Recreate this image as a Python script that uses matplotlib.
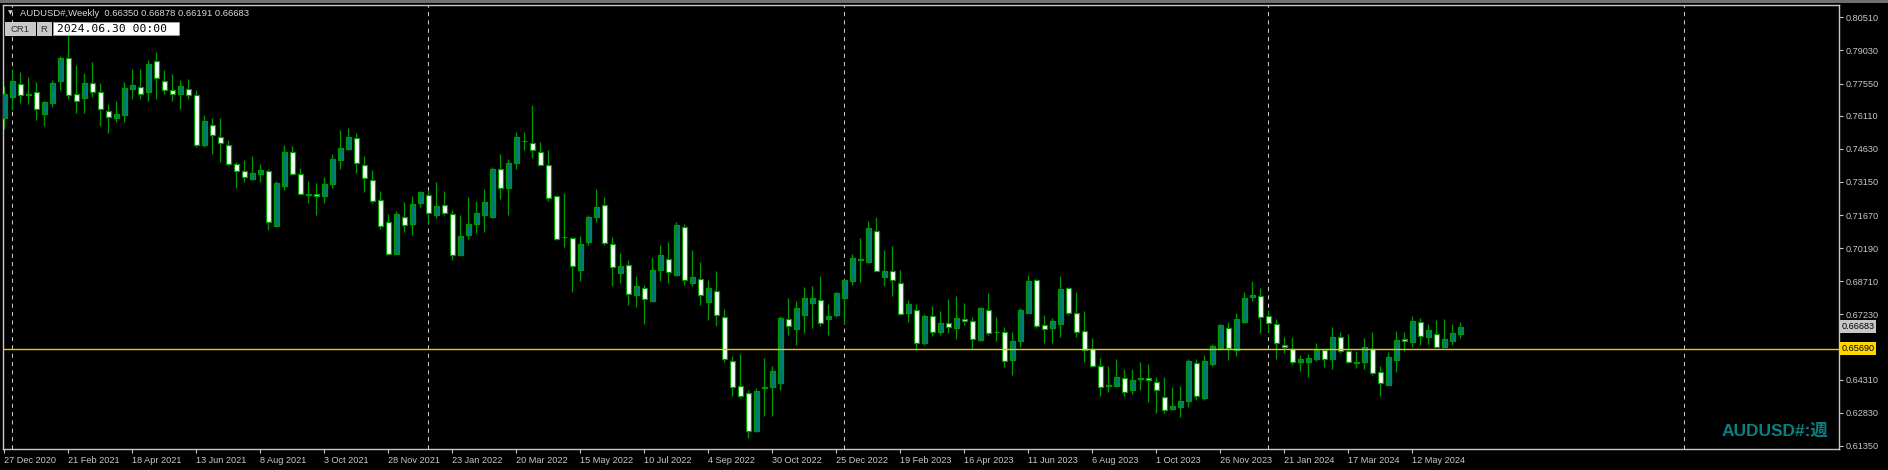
import matplotlib
matplotlib.use("Agg")
import matplotlib.pyplot as plt
import matplotlib.transforms as mtransforms
from matplotlib.patches import Rectangle
import numpy as np

# ---------------- data (weekly AUDUSD#, first bar = 27 Dec 2020) ----------------
opens = [0.7600, 0.7697, 0.7752, 0.7706, 0.7716, 0.7618, 0.7667, 0.7765, 0.7868, 0.7710,
         0.7689, 0.7757, 0.7716, 0.7631, 0.7600, 0.7613, 0.7730, 0.7739, 0.7716, 0.7855,
         0.7765, 0.7725, 0.7707, 0.7730, 0.7703, 0.7478, 0.7569, 0.7517, 0.7481, 0.7396,
         0.7363, 0.7329, 0.7350, 0.7363, 0.7119, 0.7299, 0.7448, 0.7351, 0.7260, 0.7259,
         0.7254, 0.7304, 0.7411, 0.7463, 0.7511, 0.7390, 0.7323, 0.7234, 0.7135, 0.6995,
         0.7157, 0.7125, 0.7220, 0.7256, 0.7166, 0.7211, 0.7171, 0.6988, 0.7076, 0.7125,
         0.7165, 0.7157, 0.7372, 0.7286, 0.7399, 0.7500, 0.7488, 0.7448, 0.7390, 0.7251,
         0.7070, 0.7064, 0.6921, 0.7046, 0.7157, 0.7211, 0.7037, 0.6910, 0.6943, 0.6809,
         0.6839, 0.6782, 0.6922, 0.6970, 0.6901, 0.7113, 0.6861, 0.6879, 0.6778, 0.6827,
         0.6711, 0.6514, 0.6402, 0.6371, 0.6202, 0.6395, 0.6396, 0.6414, 0.6702, 0.6657,
         0.6718, 0.6772, 0.6787, 0.6700, 0.6718, 0.6794, 0.6874, 0.6967, 0.6956, 0.7095,
         0.6892, 0.6916, 0.6863, 0.6728, 0.6742, 0.6597, 0.6715, 0.6646, 0.6684, 0.6660,
         0.6702, 0.6693, 0.6609, 0.6742, 0.6645, 0.6645, 0.6517, 0.6602, 0.6727, 0.6877,
         0.6675, 0.6660, 0.6682, 0.6842, 0.6728, 0.6648, 0.6566, 0.6491, 0.6407, 0.6401,
         0.6438, 0.6383, 0.6439, 0.6438, 0.6420, 0.6353, 0.6302, 0.6311, 0.6334, 0.6506,
         0.6347, 0.6499, 0.6572, 0.6661, 0.6563, 0.6690, 0.6800, 0.6804, 0.6714, 0.6679,
         0.6585, 0.6570, 0.6509, 0.6509, 0.6523, 0.6563, 0.6523, 0.6621, 0.6560, 0.6506,
         0.6509, 0.6567, 0.6465, 0.6407, 0.6517, 0.6615, 0.6599, 0.6688, 0.6621, 0.6635,
         0.6576, 0.6603, 0.66350]
highs = [0.7745, 0.7821, 0.7807, 0.7783, 0.7763, 0.7679, 0.7771, 0.7879, 0.8002, 0.7838,
         0.7804, 0.7852, 0.7758, 0.7664, 0.7678, 0.7763, 0.7818, 0.7821, 0.7861, 0.7894,
         0.7816, 0.7798, 0.7771, 0.7776, 0.7727, 0.7613, 0.7602, 0.7603, 0.7503, 0.7403,
         0.7414, 0.7429, 0.7393, 0.7374, 0.7317, 0.7481, 0.7477, 0.7378, 0.7317, 0.7311,
         0.7338, 0.7441, 0.7549, 0.7558, 0.7534, 0.7432, 0.7369, 0.7275, 0.7172, 0.7186,
         0.7226, 0.7253, 0.7275, 0.7280, 0.7315, 0.7275, 0.7189, 0.7168, 0.7248, 0.7231,
         0.7284, 0.7384, 0.7441, 0.7418, 0.7539, 0.7539, 0.7660, 0.7494, 0.7459, 0.7251,
         0.7266, 0.7070, 0.7074, 0.7166, 0.7284, 0.7248, 0.7070, 0.6998, 0.6967, 0.6895,
         0.6854, 0.6980, 0.7032, 0.7047, 0.7137, 0.7126, 0.7012, 0.6958, 0.6877, 0.6918,
         0.6748, 0.6538, 0.6547, 0.6383, 0.6395, 0.6526, 0.6493, 0.6716, 0.6797, 0.6781,
         0.6846, 0.6851, 0.6895, 0.6770, 0.6822, 0.6883, 0.6994, 0.7065, 0.7141, 0.7157,
         0.7012, 0.7029, 0.6922, 0.6785, 0.6770, 0.6724, 0.6761, 0.6739, 0.6792, 0.6806,
         0.6775, 0.6711, 0.6758, 0.6819, 0.6712, 0.6666, 0.6642, 0.6751, 0.6900, 0.6882,
         0.6721, 0.6708, 0.6895, 0.6846, 0.6824, 0.6739, 0.6618, 0.6526, 0.6490, 0.6524,
         0.6480, 0.6477, 0.6511, 0.6502, 0.6444, 0.6444, 0.6396, 0.6401, 0.6523, 0.6524,
         0.6542, 0.6591, 0.6678, 0.6691, 0.6728, 0.6824, 0.6873, 0.6842, 0.6743, 0.6703,
         0.6623, 0.6623, 0.6541, 0.6547, 0.6596, 0.6569, 0.6667, 0.6642, 0.6636, 0.6560,
         0.6618, 0.6645, 0.6491, 0.6555, 0.6649, 0.6645, 0.6716, 0.6708, 0.6681, 0.6699,
         0.6703, 0.6681, 0.66878]
lows = [0.7552, 0.7637, 0.7666, 0.7663, 0.7590, 0.7563, 0.7649, 0.7724, 0.7688, 0.7622,
        0.7622, 0.7697, 0.7563, 0.7533, 0.7585, 0.7581, 0.7688, 0.7688, 0.7676, 0.7688,
        0.7706, 0.7675, 0.7643, 0.7688, 0.7473, 0.7473, 0.7442, 0.7406, 0.7389, 0.7286,
        0.7313, 0.7324, 0.7313, 0.7101, 0.7116, 0.7280, 0.7344, 0.7259, 0.7219, 0.7169,
        0.7222, 0.7290, 0.7375, 0.7459, 0.7356, 0.7272, 0.7223, 0.7105, 0.6989, 0.6994,
        0.7089, 0.7079, 0.7204, 0.7131, 0.7153, 0.7169, 0.6964, 0.6985, 0.7061, 0.7085,
        0.7093, 0.7153, 0.7240, 0.7165, 0.7371, 0.7456, 0.7424, 0.7389, 0.7232, 0.7055,
        0.7026, 0.6825, 0.6874, 0.7034, 0.7137, 0.7034, 0.6848, 0.6865, 0.6763, 0.6758,
        0.6678, 0.6781, 0.6874, 0.6865, 0.6895, 0.6855, 0.6851, 0.6767, 0.6696, 0.6669,
        0.6508, 0.6359, 0.6351, 0.6168, 0.6199, 0.6269, 0.6269, 0.6383, 0.6632, 0.6584,
        0.6638, 0.6664, 0.6673, 0.6629, 0.6709, 0.6681, 0.6855, 0.6869, 0.6952, 0.6918,
        0.6851, 0.6806, 0.6718, 0.6690, 0.6563, 0.6588, 0.6624, 0.6630, 0.6638, 0.6615,
        0.6676, 0.6569, 0.6605, 0.6632, 0.6602, 0.6489, 0.6454, 0.6579, 0.6727, 0.6660,
        0.6593, 0.6596, 0.6620, 0.6718, 0.6620, 0.6511, 0.6486, 0.6360, 0.6378, 0.6401,
        0.6356, 0.6369, 0.6383, 0.6329, 0.6284, 0.6284, 0.6295, 0.6266, 0.6311, 0.6338,
        0.6342, 0.6493, 0.6565, 0.6521, 0.6539, 0.6685, 0.6781, 0.6638, 0.6646, 0.6523,
        0.6550, 0.6500, 0.6468, 0.6441, 0.6515, 0.6486, 0.6477, 0.6550, 0.6505, 0.6481,
        0.6478, 0.6454, 0.6360, 0.6407, 0.6465, 0.6560, 0.6575, 0.6588, 0.6590, 0.6576,
        0.6575, 0.6585, 0.66191]
closes = [0.7707, 0.7767, 0.7704, 0.7704, 0.7642, 0.7672, 0.7757, 0.7868, 0.7704, 0.7678,
          0.7758, 0.7716, 0.7642, 0.7606, 0.7618, 0.7734, 0.7748, 0.7707, 0.7841, 0.7779,
          0.7727, 0.7707, 0.7743, 0.7703, 0.7479, 0.7587, 0.7524, 0.7488, 0.7394, 0.7363,
          0.7336, 0.7356, 0.7369, 0.7135, 0.7311, 0.7450, 0.7350, 0.7260, 0.7256, 0.7251,
          0.7307, 0.7417, 0.7466, 0.7514, 0.7399, 0.7332, 0.7229, 0.7117, 0.6992, 0.7171,
          0.7122, 0.7217, 0.7269, 0.7175, 0.7207, 0.7175, 0.6988, 0.7073, 0.7126, 0.7175,
          0.7226, 0.7372, 0.7287, 0.7399, 0.7515, 0.7497, 0.7457, 0.7390, 0.7242, 0.7059,
          0.7067, 0.6939, 0.7037, 0.7157, 0.7202, 0.7041, 0.6936, 0.6939, 0.6813, 0.6851,
          0.6792, 0.6921, 0.6988, 0.6912, 0.7122, 0.6876, 0.6891, 0.6809, 0.6840, 0.6721,
          0.6523, 0.6396, 0.6356, 0.6201, 0.6381, 0.6398, 0.6471, 0.6706, 0.6669, 0.6751,
          0.6795, 0.6795, 0.6684, 0.6716, 0.6818, 0.6876, 0.6974, 0.6970, 0.7108, 0.6919,
          0.6918, 0.6877, 0.6724, 0.6769, 0.6594, 0.6716, 0.6643, 0.6685, 0.6666, 0.6706,
          0.6693, 0.6611, 0.6752, 0.6639, 0.6642, 0.6514, 0.6605, 0.6743, 0.6873, 0.6673,
          0.6657, 0.6693, 0.6837, 0.6727, 0.6646, 0.6562, 0.6494, 0.6396, 0.6404, 0.6442,
          0.6375, 0.6429, 0.6436, 0.6429, 0.6384, 0.6295, 0.6314, 0.6335, 0.6515, 0.6356,
          0.6515, 0.6581, 0.6675, 0.6572, 0.6702, 0.6795, 0.6809, 0.6711, 0.6685, 0.6596,
          0.6576, 0.6511, 0.6523, 0.6527, 0.6563, 0.6524, 0.6621, 0.6560, 0.6509, 0.6511,
          0.6576, 0.6460, 0.6416, 0.6532, 0.6608, 0.6603, 0.6693, 0.6627, 0.6652, 0.6578,
          0.6612, 0.6641, 0.66683]

date_labels = ["27 Dec 2020", "21 Feb 2021", "18 Apr 2021", "13 Jun 2021", "8 Aug 2021",
               "3 Oct 2021", "28 Nov 2021", "23 Jan 2022", "20 Mar 2022", "15 May 2022",
               "10 Jul 2022", "4 Sep 2022", "30 Oct 2022", "25 Dec 2022", "19 Feb 2023",
               "16 Apr 2023", "11 Jun 2023", "6 Aug 2023", "1 Oct 2023", "26 Nov 2023",
               "21 Jan 2024", "17 Mar 2024", "12 May 2024"]
label_step = 8                      # one date label every 8 weekly bars
year_start_bars = [1, 53, 105, 158, 210]   # first bar of 2021..2025 (period separators)
price_ticks = [0.80510, 0.79030, 0.77550, 0.76110, 0.74630, 0.73150, 0.71670,
               0.70190, 0.68710, 0.67230, 0.64310, 0.62830, 0.61350]
hline_price = 0.65690
last_price = closes[-1]
symbol = "AUDUSD#"
header_values = [opens[-1], highs[-1], lows[-1], closes[-1]]

# ---------------- figure ----------------
W, H = 1888, 470
fig = plt.figure(figsize=(W / 100, H / 100), dpi=100, facecolor="black")

def fx(px):
    return px / W

def fy(py):
    return 1 - py / H

left, right, top, bottom = 3, 1839, 5, 449
ax = fig.add_axes([fx(left), fy(bottom), fx(right - left), (bottom - top) / H])
ax.set_facecolor("black")

o = np.array(opens); h = np.array(highs); l = np.array(lows); c = np.array(closes)
x = np.arange(len(o))
bull = c >= o

wick_col = "#009a00"
ax.vlines(x, l, h, color=wick_col, linewidth=0.9, zorder=2)
body_h = np.maximum(np.abs(c - o), 0.00002)
ax.bar(x, body_h, bottom=np.minimum(o, c), width=0.6,
       color=np.where(bull, "#007878", "#ffffff"), edgecolor=wick_col,
       linewidth=0.9, zorder=3)

# period separators
for b in year_start_bars:
    ax.axvline(b, color="#c8c8c8", linewidth=0.75, linestyle=(0, (4, 4)), zorder=1)

# horizontal line
ax.axhline(hline_price, color="#f0c800", linewidth=1.0, zorder=4)

ax.set_xlim(-0.16, 229.34)
ax.set_ylim(0.61210, 0.81061)

# axes / ticks
for s in ax.spines.values():
    s.set_color("#c8c8c8")
    s.set_linewidth(1.0)

ax.yaxis.tick_right()
ax.set_yticks(price_ticks)
ax.set_yticklabels(["%.5f" % v for v in price_ticks])
ax.tick_params(axis="y", colors="#c8c8c8", labelcolor="#c8c8c8", length=3,
               width=0.8, pad=2, labelsize=6.6, direction="out")

xt = np.arange(len(date_labels)) * label_step
ax.set_xticks(xt)
ax.set_xticklabels(date_labels)
ax.tick_params(axis="x", colors="#c8c8c8", labelcolor="#c8c8c8", length=3,
               width=0.8, pad=2, labelsize=6.6, direction="out")
for t in ax.get_xticklabels():
    t.set_horizontalalignment("left")
for t in ax.get_xticklabels() + ax.get_yticklabels():
    t.set_fontfamily("Liberation Sans")

# price labels on right scale
blend = mtransforms.blended_transform_factory(ax.transAxes, ax.transData)
ax.text(1.0012, last_price, "%.5f" % last_price, transform=blend, ha="left", va="center",
        fontsize=6.6, family="Liberation Sans", color="black", clip_on=False, zorder=6,
        bbox=dict(boxstyle="square,pad=0.2", fc="#c8c8c8", ec="none"))
ax.text(1.0012, hline_price, "%.5f" % hline_price, transform=blend, ha="left", va="center",
        fontsize=6.6, family="Liberation Sans", color="black", clip_on=False, zorder=6,
        bbox=dict(boxstyle="square,pad=0.2", fc="#ffd700", ec="none"))

# top window border
fig.patches.append(Rectangle((0, fy(2.5)), 1, 2.5 / H, transform=fig.transFigure,
                             facecolor="#707070", edgecolor="none"))

# header text
fig.text(fx(8), fy(13), "\u25bc", color="#c8c8c8", fontsize=4.5, va="center", ha="left")
fig.text(fx(20), fy(13), "%s,Weekly  " % symbol + " ".join("%.5f" % v for v in header_values),
         color="#d8d8d8", fontsize=6.8, family="Liberation Sans", va="center", ha="left")

# buttons
fig.patches.append(Rectangle((fx(5), fy(35)), fx(30), 13 / H, transform=fig.transFigure,
                             facecolor="#c8c8c8", edgecolor="#e0e0e0", linewidth=0.6))
fig.text(fx(20), fy(29), "CR1", color="#303030", fontsize=6.8, family="Liberation Sans",
         ha="center", va="center")
fig.patches.append(Rectangle((fx(37), fy(35)), fx(14), 13 / H, transform=fig.transFigure,
                             facecolor="#c8c8c8", edgecolor="#e0e0e0", linewidth=0.6))
fig.text(fx(44), fy(29), "R", color="#303030", fontsize=6.8, family="Liberation Sans",
         ha="center", va="center")
fig.patches.append(Rectangle((fx(53), fy(35)), fx(126), 13 / H, transform=fig.transFigure,
                             facecolor="white", edgecolor="#a0a0a0", linewidth=0.6))
fig.text(fx(57), fy(28.5), "2024.06.30 00:00", color="black", fontsize=8.2,
         family="DejaVu Sans Mono", ha="left", va="center")

# watermark
fig.text(fx(1828), fy(431), "%s:週" % symbol, color="#0a8080", fontsize=12.5,
         fontweight="bold", family=["Liberation Sans", "Noto Sans CJK JP"],
         ha="right", va="center")

fig.savefig("out.png", dpi=100, facecolor="black")
